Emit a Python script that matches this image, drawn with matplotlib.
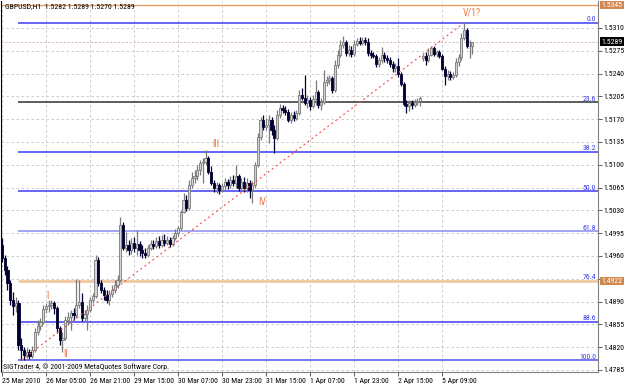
import numpy as np
import matplotlib.pyplot as plt
from matplotlib import font_manager

# GBPUSD H1, prices in points (1/10000)
opens = [14977, 14957, 14939, 14919, 14893, 14883, 14888, 14823, 14816, 14808,
         14813, 14807, 14816, 14843, 14853, 14859, 14879, 14883, 14885, 14888,
         14880, 14850, 14831, 14834, 14862, 14867, 14873, 14870, 14885, 14889,
         14865, 14871, 14877, 14893, 14899, 14954, 14919, 14908, 14900, 14893,
         14902, 14908, 14916, 14923, 15008, 14972, 14977, 14969, 14980, 14972,
         14978, 14969, 14965, 14962, 14972, 14978, 14975, 14983, 14977, 14985,
         14980, 14985, 14978, 14988, 14995, 15003, 15028, 15046, 15034, 15069,
         15080, 15083, 15092, 15103, 15104, 15110, 15089, 15072, 15064, 15069,
         15061, 15068, 15074, 15069, 15077, 15072, 15083, 15064, 15074, 15064,
         15072, 15061, 15069, 15100, 15143, 15169, 15158, 15161, 15169, 15153,
         15141, 15176, 15187, 15184, 15181, 15169, 15176, 15172, 15180, 15207,
         15203, 15195, 15199, 15190, 15201, 15212, 15192, 15196, 15227, 15230,
         15233, 15215, 15253, 15269, 15284, 15289, 15272, 15276, 15270, 15285,
         15290, 15287, 15292, 15289, 15272, 15269, 15267, 15255, 15261, 15269,
         15264, 15261, 15255, 15249, 15252, 15239, 15224, 15193, 15190, 15195,
         15192, 15196, 15198, 15264, 15267, 15261, 15269, 15279, 15270, 15273,
         15267, 15247, 15236, 15239, 15235, 15238, 15258, 15266, 15295, 15307,
         15282, 15282]
highs = [14988, 14962, 14945, 14923, 14905, 14897, 14893, 14834, 14820, 14819,
         14817, 14822, 14850, 14862, 14865, 14885, 14888, 14893, 14893, 14891,
         14883, 14853, 14843, 14868, 14874, 14877, 14880, 14925, 14923, 14903,
         14877, 14885, 14897, 14903, 14962, 14958, 14923, 14912, 14908, 14908,
         14916, 14923, 14931, 15020, 15012, 14997, 14985, 14988, 14989, 15000,
         14983, 14977, 14972, 14977, 14985, 14985, 14989, 14991, 14992, 14994,
         14991, 14989, 14992, 15002, 15006, 15031, 15057, 15054, 15077, 15089,
         15092, 15100, 15107, 15110, 15123, 15114, 15098, 15077, 15074, 15072,
         15072, 15080, 15078, 15083, 15084, 15100, 15086, 15080, 15081, 15080,
         15077, 15075, 15104, 15149, 15173, 15176, 15172, 15176, 15173, 15161,
         15184, 15193, 15192, 15190, 15186, 15181, 15183, 15184, 15215, 15218,
         15238, 15207, 15204, 15207, 15230, 15215, 15203, 15246, 15236, 15238,
         15236, 15261, 15276, 15292, 15298, 15292, 15284, 15282, 15292, 15295,
         15296, 15296, 15296, 15295, 15276, 15273, 15270, 15266, 15281, 15273,
         15269, 15266, 15259, 15256, 15264, 15242, 15227, 15199, 15199, 15199,
         15201, 15203, 15206, 15270, 15273, 15279, 15282, 15282, 15276, 15276,
         15270, 15252, 15246, 15244, 15242, 15264, 15270, 15302, 15318, 15310,
         15292, 15289]
lows = [14951, 14931, 14908, 14885, 14870, 14874, 14816, 14800, 14800, 14803,
        14802, 14803, 14813, 14839, 14847, 14856, 14873, 14874, 14879, 14871,
        14842, 14823, 14813, 14831, 14854, 14847, 14862, 14865, 14880, 14860,
        14859, 14847, 14874, 14888, 14896, 14914, 14903, 14893, 14888, 14885,
        14897, 14903, 14911, 14920, 14969, 14966, 14962, 14963, 14966, 14962,
        14960, 14957, 14957, 14958, 14969, 14971, 14972, 14972, 14974, 14975,
        14977, 14974, 14975, 14985, 14991, 15000, 15026, 15029, 15031, 15064,
        15072, 15077, 15084, 15072, 15100, 15086, 15069, 15058, 15057, 15055,
        15058, 15061, 15063, 15064, 15068, 15064, 15060, 15060, 15058, 15058,
        15049, 15041, 15064, 15097, 15138, 15153, 15153, 15133, 15146, 15118,
        15138, 15172, 15180, 15176, 15166, 15164, 15167, 15169, 15176, 15199,
        15192, 15187, 15184, 15187, 15192, 15187, 15184, 15193, 15221, 15224,
        15210, 15212, 15249, 15266, 15279, 15267, 15267, 15266, 15267, 15282,
        15284, 15284, 15284, 15267, 15264, 15264, 15250, 15250, 15256, 15258,
        15256, 15250, 15242, 15242, 15235, 15221, 15190, 15180, 15183, 15186,
        15189, 15192, 15190, 15259, 15253, 15258, 15267, 15267, 15266, 15264,
        15246, 15223, 15230, 15230, 15232, 15235, 15252, 15261, 15292, 15279,
        15264, 15270]
closes = [14957, 14939, 14919, 14893, 14883, 14888, 14823, 14816, 14808, 14813,
          14807, 14816, 14843, 14853, 14859, 14879, 14883, 14885, 14888, 14880,
          14850, 14831, 14834, 14862, 14867, 14873, 14870, 14885, 14889, 14865,
          14871, 14877, 14893, 14899, 14954, 14919, 14908, 14900, 14893, 14902,
          14908, 14916, 14923, 15008, 14972, 14977, 14969, 14980, 14972, 14978,
          14969, 14965, 14962, 14972, 14978, 14975, 14983, 14977, 14985, 14980,
          14985, 14978, 14988, 14995, 15003, 15028, 15046, 15034, 15069, 15080,
          15083, 15092, 15103, 15104, 15110, 15089, 15072, 15064, 15069, 15061,
          15068, 15074, 15069, 15077, 15072, 15083, 15064, 15074, 15064, 15072,
          15061, 15069, 15100, 15143, 15169, 15158, 15161, 15169, 15153, 15141,
          15176, 15187, 15184, 15181, 15169, 15176, 15172, 15180, 15207, 15203,
          15195, 15199, 15190, 15201, 15212, 15192, 15196, 15227, 15230, 15233,
          15215, 15253, 15269, 15284, 15289, 15272, 15276, 15270, 15285, 15290,
          15287, 15292, 15289, 15272, 15269, 15267, 15255, 15261, 15269, 15264,
          15261, 15255, 15249, 15252, 15239, 15224, 15193, 15190, 15195, 15192,
          15196, 15198, 15203, 15267, 15261, 15269, 15279, 15270, 15273, 15267,
          15247, 15236, 15239, 15235, 15238, 15258, 15266, 15295, 15307, 15282,
          15282, 15289]

time_labels = ['25 Mar 2010', '26 Mar 05:00', '26 Mar 21:00', '29 Mar 15:00',
               '30 Mar 07:00', '30 Mar 23:00', '31 Mar 15:00', '1 Apr 07:00',
               '1 Apr 23:00', '2 Apr 15:00', '5 Apr 09:00']
price_ticks = [1.4785, 1.4820, 1.4855, 1.4890, 1.4925, 1.4960, 1.4995, 1.5030,
               1.5065, 1.5100, 1.5135, 1.5170, 1.5205, 1.5240, 1.5275, 1.5310]

fib_high, fib_low = 1.5318, 1.4800
fib_ratios = [0.0, 23.6, 38.2, 50.0, 61.8, 76.4, 88.6, 100.0]
fib_colors = ['#3c3cf0', '#303030', '#3c3cf0', '#3c3cf0', '#8c8cf5',
              '#f0c8a0', '#3c3cf0', '#5050e8']
hline_top = 1.5345
bid = 1.5289
fib_tag = 1.4922

o = np.array(opens) / 1e4
h = np.array(highs) / 1e4
l = np.array(lows) / 1e4
c = np.array(closes) / 1e4
x = np.arange(len(c))

# narrow font if we have one
fam = 'DejaVu Sans'
for name in ['Liberation Sans Narrow', 'DejaVu Sans Condensed', 'Roboto Condensed',
             'Liberation Sans', 'Roboto']:
    try:
        font_manager.findfont(font_manager.FontProperties(family=name),
                              fallback_to_default=False)
        fam = name
        break
    except Exception:
        pass
plt.rcParams['font.family'] = [fam, 'DejaVu Sans']
fs = 5.6

fig = plt.figure(figsize=(6.25, 3.85), dpi=100)
ax = fig.add_axes([1/625, 13/385, 597/625, 371/385])

up = c >= o
wick_col = np.where(up, '#7a7a7a', '#000030')
ax.vlines(x, l, h, colors=wick_col, lw=0.9, zorder=3)
body = np.maximum(np.abs(c - o), 0.00006)
ax.bar(x[up], body[up], bottom=np.minimum(o, c)[up], width=0.75,
       color='#d4d4d4', edgecolor='#7a7a7a', lw=0.6, zorder=4)
ax.bar(x[~up], body[~up], bottom=np.minimum(o, c)[~up], width=0.75,
       color='#000030', edgecolor='#000030', lw=0.6, zorder=4)

ax.set_xlim(-0.36, 216.7)
ax.set_ylim(1.47819, 1.53514)

# Fibonacci levels
for r, col in zip(fib_ratios, fib_colors):
    p = fib_high - r / 100 * (fib_high - fib_low)
    lw = 2 if r == 76.4 else 1.1
    ax.hlines(p, 6, 216.7, colors=col, lw=lw, zorder=2)
    ax.text(0.997, p + 0.0001, '%.1f' % r, transform=ax.get_yaxis_transform(),
            ha='right', va='bottom', fontsize=fs, color='#3c3cf0', zorder=5)

ax.axhline(hline_top, color='#e8a060', lw=1, zorder=2)
ax.axhline(bid, color='#d8b0b0', lw=0.7, ls=(0, (2, 2)), zorder=2)

# trend line and wave marks
ax.plot([7, 168], [fib_low, fib_high], color='#ff5050', lw=0.9, ls=(0, (1.5, 2.5)), zorder=5)
wave_col = '#f07848'
ax.text(16.7, 1.48986, 'I', color=wave_col, fontsize=7, ha='center', va='center')
ax.text(23.3, 1.48100, 'II', color=wave_col, fontsize=7, ha='center', va='center')
ax.text(77.8, 1.51319, 'III', color=wave_col, fontsize=7, ha='center', va='center')
ax.text(94.5, 1.50429, 'IV', color=wave_col, fontsize=7, ha='center', va='center')
ax.text(170.9, 1.53330, 'V/1?', color=wave_col, fontsize=7, ha='center', va='center')

# axes look
ax.yaxis.tick_right()
ax.set_yticks(price_ticks)
# the 1.4925 label sits under the fib price tag
ax.set_yticklabels(['' if abs(p - fib_tag) < 0.001 else '%.4f' % p for p in price_ticks],
                   fontsize=fs)
ax.set_xticks(np.arange(len(time_labels)) * 16)
ax.set_xticklabels(time_labels, fontsize=fs, ha='left')
ax.tick_params(axis='both', length=3, width=0.6, color='#404040', pad=1.2)
ax.grid(True, color='#c4c4c4', lw=0.6, ls=(0, (3, 3)))
ax.set_axisbelow(True)
ax.spines['top'].set_visible(False)
ax.spines['left'].set_color('#000000')
ax.spines['right'].set_color('#808080')
ax.spines['bottom'].set_color('#808080')

# price tags on the axis
tr = ax.get_yaxis_transform()
for p, bg in [(hline_top, '#d08850'), (bid, '#000000'), (fib_tag, '#d08850')]:
    ax.text(1.006, p, '%.4f' % p, transform=tr, ha='left', va='center',
            fontsize=fs, color='white', clip_on=False, zorder=10,
            bbox=dict(boxstyle='square,pad=0.15', fc=bg, ec='none'))

ax.text(0.007, 0.9865, 'GBPUSD,H1  1.5282 1.5289 1.5270 1.5289',
        transform=ax.transAxes, fontsize=fs, va='center', ha='left')
ax.text(0.004, 0.0135, 'SIGTrader 4, \u00a9 2001-2009 MetaQuotes Software Corp.',
        transform=ax.transAxes, fontsize=fs, va='center', ha='left')

fig.savefig('out.png', dpi=100)
